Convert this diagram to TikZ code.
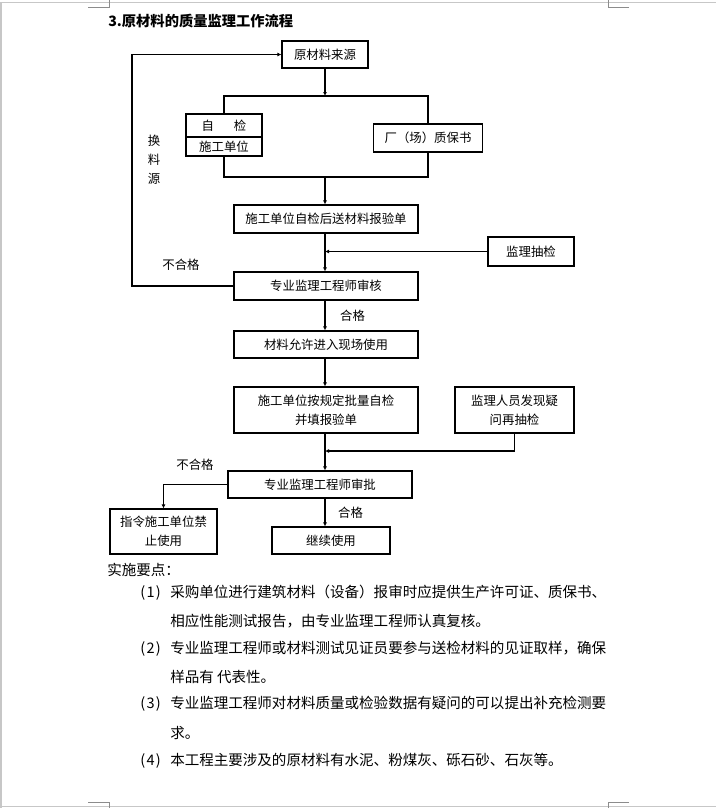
\documentclass[tikz,border=0pt]{standalone}
\usepackage{fontspec}
\setmainfont{Noto Sans CJK SC}
\usetikzlibrary{arrows.meta}

\def\pxu{0.75pt}
\newcommand{\boxfont}{\fontsize{9.3pt}{14.25pt}\selectfont}
\newcommand{\bodyfont}{\fontsize{10.9pt}{14pt}\selectfont}
\newcommand{\titlefont}{\fontsize{10.7pt}{13pt}\selectfont\bfseries}

\begin{document}
\begin{tikzpicture}[x=\pxu, y=-\pxu,
	box/.style 2 args={
		draw, line width=0.8pt,
		minimum width=#1*\pxu, minimum height=#2*\pxu,
		font=\boxfont, align=center, inner sep=0pt
	},
	arr/.style={-{Latex[length=3pt,width=3pt]}, line width=0.8pt},
	link/.style={line width=0.8pt},
	lbl/.style={font=\boxfont, inner sep=0pt},
	txt/.style={font=\bodyfont, anchor=west, inner sep=0pt},
	pageline/.style={draw=black!22, line width=0.8pt},
	cropmark/.style={draw=black!45, line width=0.6pt},
	]
	\useasboundingbox (0,0) rectangle (716,808);
	\draw[pageline] (1,808) -- (1,2.5) -- (716,2.5);
	\draw[pageline] (1,806.5) -- (716,806.5);
	\draw[cropmark] (88,7) -| (109,0);
	\draw[cropmark] (629,7) -| (608,0);
	\draw[cropmark] (88,802) -| (109,808);
	\draw[cropmark] (629,802) -| (608,808);

	\node[anchor=west, inner sep=0pt, font=\titlefont] (title) at (108,21)
	{3.原材料的质量监理工作流程};

	\node[box={86}{27}]  (src)      at (325,54.5)  {原材料来源};
	\node[box={76}{23}]  (selfchk)  at (224,125.5) {自\hspace{15pt}检};
	\node[box={76}{19}]  (selfunit) at (224,146.5) {施工单位};
	\node[box={109}{28}] (fac)      at (428,138)   {厂（场）质保书};
	\node[box={184}{28}] (send)     at (326,219)   {施工单位自检后送材料报验单};
	\node[box={86}{29}]  (spot)     at (531,251.5) {监理抽检};
	\node[box={184}{28}] (rev)      at (326,286)   {专业监理工程师审核};
	\node[box={184}{27}] (allow)    at (326,344.5) {材料允许进入现场使用};
	\node[box={184}{46}] (batch)    at (326,410)   {施工单位按规定批量自检\\并填报验单};
	\node[box={119}{46}] (doubt)    at (514.5,410) {监理人员发现疑\\问再抽检};
	\node[box={184}{27}] (appr)     at (320,484.5) {专业监理工程师审批};
	\node[box={107}{45}] (ban)      at (163.5,531.5) {指令施工单位禁\\止使用};
	\node[box={118}{27}] (cont)     at (331,540.5) {继续使用};

	\node[lbl, align=center] (swap) at (154,160) {换\\料\\源};
	\node[lbl] (nok1) at (181,265) {不合格};
	\node[lbl] (nok2) at (195,465) {不合格};

	\coordinate (split) at (325,96);
	\coordinate (merge) at (325,177);
	\coordinate (back)  at (132,170);
	\coordinate (join)  at (325,451);

	\draw[arr]  (src) -- (split);
	\draw[link] (selfchk.north) |- (split) -| (fac.north);
	\draw[link] (selfunit.south) |- (merge) -| (fac.south);
	\draw[arr]  (merge) -- (merge |- send.north);
	\draw[arr]  (send.south -| merge) -- (rev.north -| merge);
	\draw[arr]  (spot.west) -- (spot.west -| merge);
	\draw[arr]  (rev.west) -| (back) |- (src.west);
	\draw[arr]  (rev.south -| merge) -- node[lbl, right=11pt] {合格} (allow.north -| merge);
	\draw[arr]  (allow.south -| merge) -- (batch.north -| merge);
	\draw[arr]  (doubt.south) |- (join);
	\draw[arr]  (batch.south -| merge) -- (appr.north -| merge);
	\draw[arr]  (appr.west) -| (ban.north);
	\draw[arr]  (appr.south -| merge) -- node[lbl, right=9.5pt] {合格} (cont.north -| merge);

	\node[txt] (notes) at (107,570) {实施要点：};
	\node[txt] (n1)  at (140,593) {\makebox[22.5pt][l]{(\kern1pt1\kern1pt)}采购单位进行建筑材料（设备）报审时应提供生产许可证、质保书、};
	\node[txt] (n1b) at (170,621) {相应性能测试报告，由专业监理工程师认真复核。};
	\node[txt] (n2)  at (140,649) {\makebox[22.5pt][l]{(\kern1pt2\kern1pt)}专业监理工程师或材料测试见证员要参与送检材料的见证取样，确保};
	\node[txt] (n2b) at (170,677) {样品有 代表性。};
	\node[txt] (n3)  at (140,704) {\makebox[22.5pt][l]{(\kern1pt3\kern1pt)}专业监理工程师对材料质量或检验数据有疑问的可以提出补充检测要};
	\node[txt] (n3b) at (170,733) {求。};
	\node[txt] (n4)  at (140,761) {\makebox[22.5pt][l]{(\kern1pt4\kern1pt)}本工程主要涉及的原材料有水泥、粉煤灰、砾石砂、石灰等。};
\end{tikzpicture}
\end{document}
